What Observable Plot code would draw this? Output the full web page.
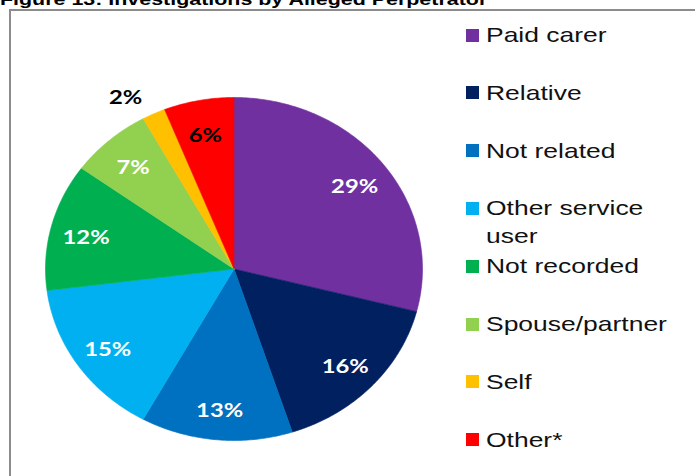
<!DOCTYPE html>
<html>
<head>
<meta charset="utf-8">
<script src="https://cdn.jsdelivr.net/npm/d3@7"></script>
<script src="https://cdn.jsdelivr.net/npm/@observablehq/plot@0.6"></script>
<style>
  html, body { margin: 0; padding: 0; background: #fff; }
  #wrap { position: relative; width: 695px; height: 476px; overflow: hidden; background: #fff; }
  #frame { position: absolute; left: 9px; top: 9px; width: 800px; height: 600px;
           border-left: 2px solid #8c8c8c; border-top: 2px solid #8c8c8c; box-sizing: border-box; }
  #title { position: absolute; left: 0; top: -9.5px; font: bold 17px "Liberation Sans", Arial, sans-serif;
           line-height: 17px; white-space: nowrap; transform: scaleX(1.26); transform-origin: left top; color: #000; }
  #chart { position: absolute; left: 0; top: 0; }
  .item { position: absolute; left: 466px; }
  .sw { position: absolute; left: 0; width: 13px; height: 13px; }
  .lt { position: absolute; left: 20px; width: 160px; font: 21px "Liberation Sans", Arial, sans-serif;
        line-height: 28px; color: #111; transform: scaleX(1.26); transform-origin: left top; }
</style>
</head>
<body>
<div id="wrap">
  <div id="chart"></div>
  <div id="frame"></div>
  <div id="title"></div>
  <div id="legend"></div>
</div>
<script>
const titleText = "Figure 13: Investigations by Alleged Perpetrator";
const categories = ["Paid carer", "Relative", "Not related", "Other service user", "Not recorded", "Spouse/partner", "Self", "Other*"];
const shares = [29, 16, 13, 15, 12, 7, 2, 6];
const palette = ["#7030A0", "#002060", "#0070C0", "#00B0F0", "#00B050", "#92D050", "#FFC000", "#FF0000"];
const outsideLabels = ["Self"];
const darkLabels = ["Self", "Other*"];

document.getElementById("title").textContent = titleText;

// geometry of the pie in pixels
const W = 695, H = 476, cx = 233.5, cy = 268.5, rx = 188.5, ry = 171.5;
const total = d3.sum(shares);

// slice polygons in unit-circle coordinates (angle clockwise from 12 o'clock)
const slices = [];
const labels = [];
let cum = 0;
categories.forEach((cat, i) => {
  const v = shares[i];
  const a0 = cum / total * 2 * Math.PI;
  const a1 = (cum + v) / total * 2 * Math.PI;
  const n = Math.max(4, Math.ceil(v * 5));
  slices.push({cat, x: 0, y: 0});
  for (let k = 0; k <= n; k++) {
    const a = a0 + (a1 - a0) * k / n;
    slices.push({cat, x: Math.sin(a), y: Math.cos(a)});
  }
  slices.push({cat, x: 0, y: 0});
  const mid = (a0 + a1) / 2;
  const outside = outsideLabels.includes(cat);
  const r = outside ? 1.15 : 0.81;
  labels.push({cat, text: v + "%", x: r * Math.sin(mid), y: r * Math.cos(mid),
               outside, dark: darkLabels.includes(cat)});
  cum += v;
});

const textStyle = {fontFamily: "Lato, 'Open Sans', sans-serif", fontWeight: "bold", fontSize: 19.5};

const plot = Plot.plot({
  width: W, height: H,
  marginTop: 0, marginRight: 0, marginBottom: 0, marginLeft: 0,
  style: {background: "transparent", overflow: "visible"},
  x: {domain: [-cx / rx, (W - cx) / rx], range: [0, W], axis: null},
  y: {domain: [-(H - cy) / ry, cy / ry], range: [H, 0], axis: null},
  color: {domain: categories, range: palette},
  marks: [
    Plot.line(slices, {x: "x", y: "y", z: "cat", fill: "cat", stroke: "cat", strokeWidth: 0.6, curve: "linear"}),
    Plot.text(labels.filter(d => !d.outside && !d.dark), {x: "x", y: "y", text: "text", fill: "#ffffff", dy: 3, ...textStyle}),
    Plot.text(labels.filter(d => !d.outside && d.dark), {x: "x", y: "y", text: "text", fill: "#000000", dy: 3, ...textStyle}),
    Plot.text(labels.filter(d => d.outside), {x: "x", y: "y", text: "text", fill: "#000000", dx: -16, dy: 7, ...textStyle})
  ]
});
document.getElementById("chart").appendChild(plot);

// widen the percentage labels like the original (horizontal stretch around each label's anchor)
plot.querySelectorAll("text").forEach(t => {
  const tr = t.getAttribute("transform");
  if (tr && tr.includes("translate")) t.setAttribute("transform", tr + " scale(1.22,1)");
});

// legend
const legend = document.getElementById("legend");
categories.forEach((cat, i) => {
  const yc = 35 + i * 57.8;
  const item = document.createElement("div");
  item.className = "item";
  item.style.top = (yc - 14) + "px";
  const sw = document.createElement("div");
  sw.className = "sw";
  sw.style.top = "7.5px";
  sw.style.background = palette[i];
  const lt = document.createElement("div");
  lt.className = "lt";
  lt.style.top = "0px";
  lt.textContent = cat;
  item.appendChild(sw);
  item.appendChild(lt);
  legend.appendChild(item);
});
</script>
</body>
</html>
